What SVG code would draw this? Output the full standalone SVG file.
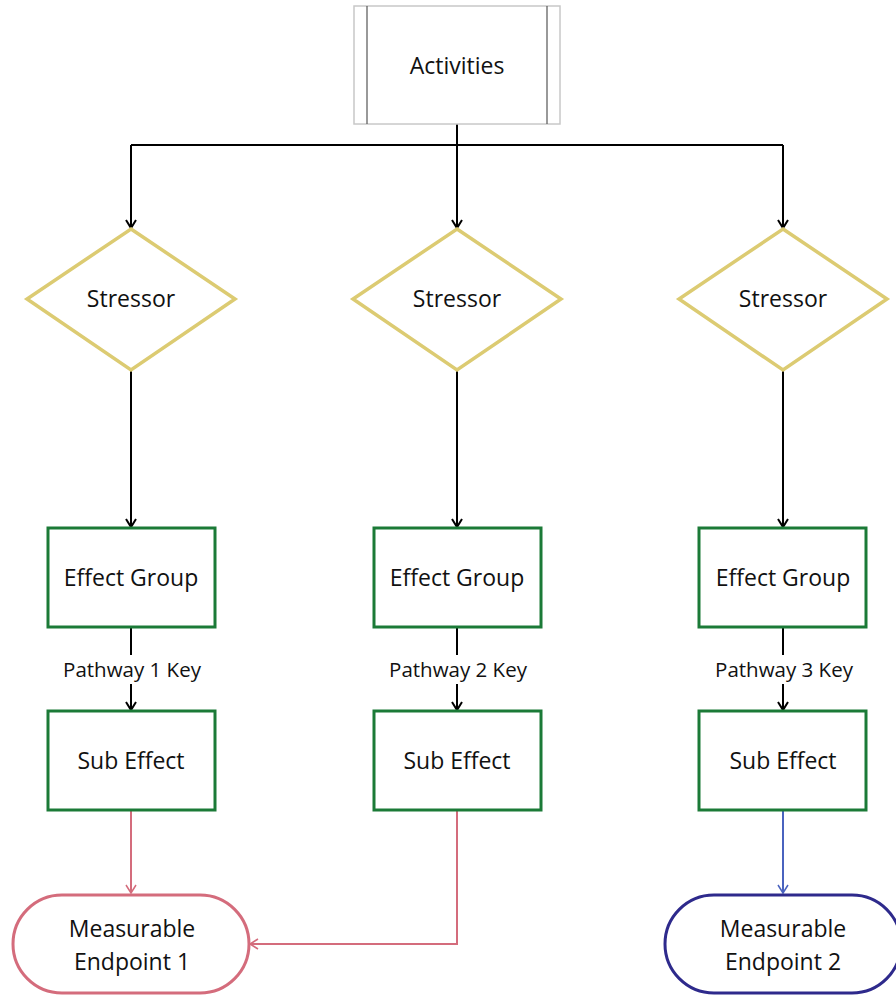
<svg xmlns="http://www.w3.org/2000/svg" width="896" height="995" viewBox="0 0 896 995">
  <style>
    .lbl { font-family: "Open Sans", "Noto Sans", sans-serif; font-size: 23px; fill: #111; text-anchor: middle; dominant-baseline: central; }
    .small { font-size: 20.5px; }
    .proc { fill: #fff; stroke: #c8c8c8; stroke-width: 1.5; }
    .procbar { stroke: #555; stroke-width: 1.2; }
    .stressor { fill: #fff; stroke: #dccb72; stroke-width: 3.5; }
    .effect { fill: #fff; stroke: #1b7a37; stroke-width: 3; }
    .ep1 { fill: #fff; stroke: #d46c7c; stroke-width: 3; }
    .ep2 { fill: #fff; stroke: #2e2a8c; stroke-width: 3; }
    .wire { fill: none; stroke: #000; stroke-width: 2; }
    .wire-pink { fill: none; stroke: #d46c7c; stroke-width: 2; }
    .wire-blue { fill: none; stroke: #4a63bf; stroke-width: 2; }
  </style>
  <defs>
    <marker id="arrow" markerWidth="12" markerHeight="12" refX="10" refY="6" orient="auto" markerUnits="userSpaceOnUse">
      <path d="M2,1 L10,6 L2,11" fill="none" stroke="#000" stroke-width="2"/>
    </marker>
    <marker id="arrow-pink" markerWidth="12" markerHeight="12" refX="10" refY="6" orient="auto" markerUnits="userSpaceOnUse">
      <path d="M2,1 L10,6 L2,11" fill="none" stroke="#d46c7c" stroke-width="1.5"/>
    </marker>
    <marker id="arrow-blue" markerWidth="12" markerHeight="12" refX="10" refY="6" orient="auto" markerUnits="userSpaceOnUse">
      <path d="M2,1 L10,6 L2,11" fill="none" stroke="#4a63bf" stroke-width="1.5"/>
    </marker>
  </defs>

  <!-- connectors -->
  <g id="connectors">
    <path class="wire" d="M457,124 V145 M131,145 H783"/>
    <path class="wire" d="M131,145 V228" marker-end="url(#arrow)"/>
    <path class="wire" d="M457,145 V228" marker-end="url(#arrow)"/>
    <path class="wire" d="M783,145 V228" marker-end="url(#arrow)"/>

    <path class="wire" d="M131,370 V527" marker-end="url(#arrow)"/>
    <path class="wire" d="M457,370 V527" marker-end="url(#arrow)"/>
    <path class="wire" d="M783,370 V527" marker-end="url(#arrow)"/>

    <path class="wire" d="M131,627 V655"/>
    <path class="wire" d="M131,684 V710" marker-end="url(#arrow)"/>
    <path class="wire" d="M457,627 V655"/>
    <path class="wire" d="M457,684 V710" marker-end="url(#arrow)"/>
    <path class="wire" d="M783,627 V655"/>
    <path class="wire" d="M783,684 V710" marker-end="url(#arrow)"/>
    <text class="lbl small" x="132" y="669">Pathway 1 Key</text>
    <text class="lbl small" x="458" y="669">Pathway 2 Key</text>
    <text class="lbl small" x="784" y="669">Pathway 3 Key</text>

    <path class="wire-pink" d="M131,810 V893" marker-end="url(#arrow-pink)"/>
    <path class="wire-pink" d="M457,810 V944 H250" marker-end="url(#arrow-pink)"/>
    <path class="wire-blue" d="M783,810 V893" marker-end="url(#arrow-blue)"/>
  </g>

  <!-- activities -->
  <g id="activities">
    <rect class="proc" x="354" y="6" width="206" height="118"/>
    <line class="procbar" x1="367" y1="6" x2="367" y2="124"/>
    <line class="procbar" x1="547" y1="6" x2="547" y2="124"/>
    <text class="lbl" x="457" y="65">Activities</text>
  </g>

  <!-- stressors -->
  <g id="stressor-1">
    <polygon class="stressor" points="131,229 235,299 131,370 27,299"/>
    <text class="lbl" x="131" y="298">Stressor</text>
  </g>
  <g id="stressor-2">
    <polygon class="stressor" points="457,229 561,299 457,370 353,299"/>
    <text class="lbl" x="457" y="298">Stressor</text>
  </g>
  <g id="stressor-3">
    <polygon class="stressor" points="783,229 887,299 783,370 679,299"/>
    <text class="lbl" x="783" y="298">Stressor</text>
  </g>

  <!-- effect groups -->
  <g id="effect-group-1">
    <rect class="effect" x="48" y="528" width="167" height="99"/>
    <text class="lbl" x="131" y="577">Effect Group</text>
  </g>
  <g id="effect-group-2">
    <rect class="effect" x="374" y="528" width="167" height="99"/>
    <text class="lbl" x="457" y="577">Effect Group</text>
  </g>
  <g id="effect-group-3">
    <rect class="effect" x="699" y="528" width="167" height="99"/>
    <text class="lbl" x="783" y="577">Effect Group</text>
  </g>

  <!-- sub effects -->
  <g id="sub-effect-1">
    <rect class="effect" x="48" y="711" width="167" height="99"/>
    <text class="lbl" x="131" y="760">Sub Effect</text>
  </g>
  <g id="sub-effect-2">
    <rect class="effect" x="374" y="711" width="167" height="99"/>
    <text class="lbl" x="457" y="760">Sub Effect</text>
  </g>
  <g id="sub-effect-3">
    <rect class="effect" x="699" y="711" width="167" height="99"/>
    <text class="lbl" x="783" y="760">Sub Effect</text>
  </g>

  <!-- endpoints -->
  <g id="endpoint-1">
    <rect class="ep1" x="13" y="895" width="236" height="98" rx="49" ry="49"/>
    <text class="lbl" x="132" y="928">Measurable</text>
    <text class="lbl" x="132" y="961">Endpoint 1</text>
  </g>
  <g id="endpoint-2">
    <rect class="ep2" x="665" y="895" width="236" height="98" rx="49" ry="49"/>
    <text class="lbl" x="783" y="928">Measurable</text>
    <text class="lbl" x="783" y="961">Endpoint 2</text>
  </g>
</svg>
